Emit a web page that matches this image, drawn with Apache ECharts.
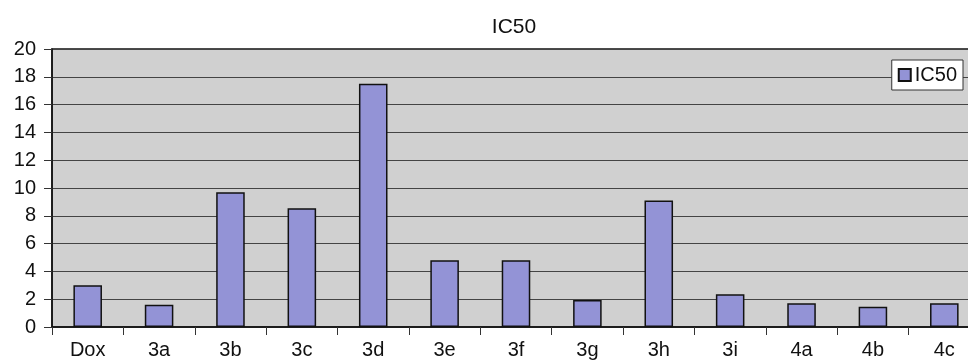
<!DOCTYPE html>
<html>
<head>
<meta charset="utf-8">
<script src="https://cdn.jsdelivr.net/npm/echarts@6/dist/echarts.min.js"></script>
<style>
html,body{margin:0;padding:0;background:#fff;overflow:hidden;width:968px;height:362px;}
#chart{width:981px;height:362px;}
</style>
</head>
<body>
<div id="chart"></div>
<script>
var categories = ['Dox','3a','3b','3c','3d','3e','3f','3g','3h','3i','4a','4b','4c'];
var ic50Values = [3.0, 1.6, 9.7, 8.55, 17.5, 4.8, 4.8, 1.95, 9.1, 2.35, 1.7, 1.45, 1.7];
var yTicks = {min: 0, max: 20, interval: 2};
var seriesName = 'IC50';
var titleText = 'IC50';

var FONT = 'Liberation Sans, Arial, sans-serif';
var chart = echarts.init(document.getElementById('chart'), null, {renderer: 'canvas'});
chart.setOption({
  animation: false,
  backgroundColor: '#ffffff',
  title: {
    text: titleText,
    left: 509,
    textAlign: 'center',
    top: 12,
    textStyle: {fontFamily: FONT, fontSize: 21, fontWeight: 'normal', color: '#111'}
  },
  legend: {
    data: [seriesName],
    right: 18,
    top: 60,
    orient: 'vertical',
    backgroundColor: '#ffffff',
    borderColor: '#333',
    borderWidth: 1,
    borderRadius: 0,
    padding: [5, 6, 5, 6],
    itemWidth: 12,
    itemHeight: 12,
    itemGap: 4,
    icon: 'rect',
    textStyle: {fontFamily: FONT, fontSize: 20, color: '#111', padding: [0,0,0,-1]}
  },
  grid: {
    left: 52, top: 49, right: 1, bottom: 35,
    show: true,
    backgroundColor: '#d0d0d0',
    borderColor: '#111',
    borderWidth: 1.5,
    containLabel: false
  },
  xAxis: {
    type: 'category',
    data: categories,
    boundaryGap: true,
    axisLine: {show: true, lineStyle: {color: '#111', width: 1.5}},
    axisTick: {show: true, alignWithLabel: false, length: 8, lineStyle: {color: '#333', width: 1}},
    axisLabel: {fontFamily: FONT, fontSize: 20, color: '#111', margin: 13, interval: 0}
  },
  yAxis: {
    type: 'value',
    min: yTicks.min,
    max: yTicks.max,
    interval: yTicks.interval,
    axisLine: {show: true, lineStyle: {color: '#111', width: 1.5}},
    axisTick: {show: true, length: 8, lineStyle: {color: '#333', width: 1}},
    axisLabel: {fontFamily: FONT, fontSize: 20, color: '#111', margin: 16},
    splitLine: {show: true, lineStyle: {color: '#444', width: 1}}
  },
  series: [{
    name: seriesName,
    type: 'bar',
    data: ic50Values,
    barWidth: '40%',
    itemStyle: {color: '#9393d6', borderColor: '#111', borderWidth: 1.5}
  }]
});
</script>
</body>
</html>
